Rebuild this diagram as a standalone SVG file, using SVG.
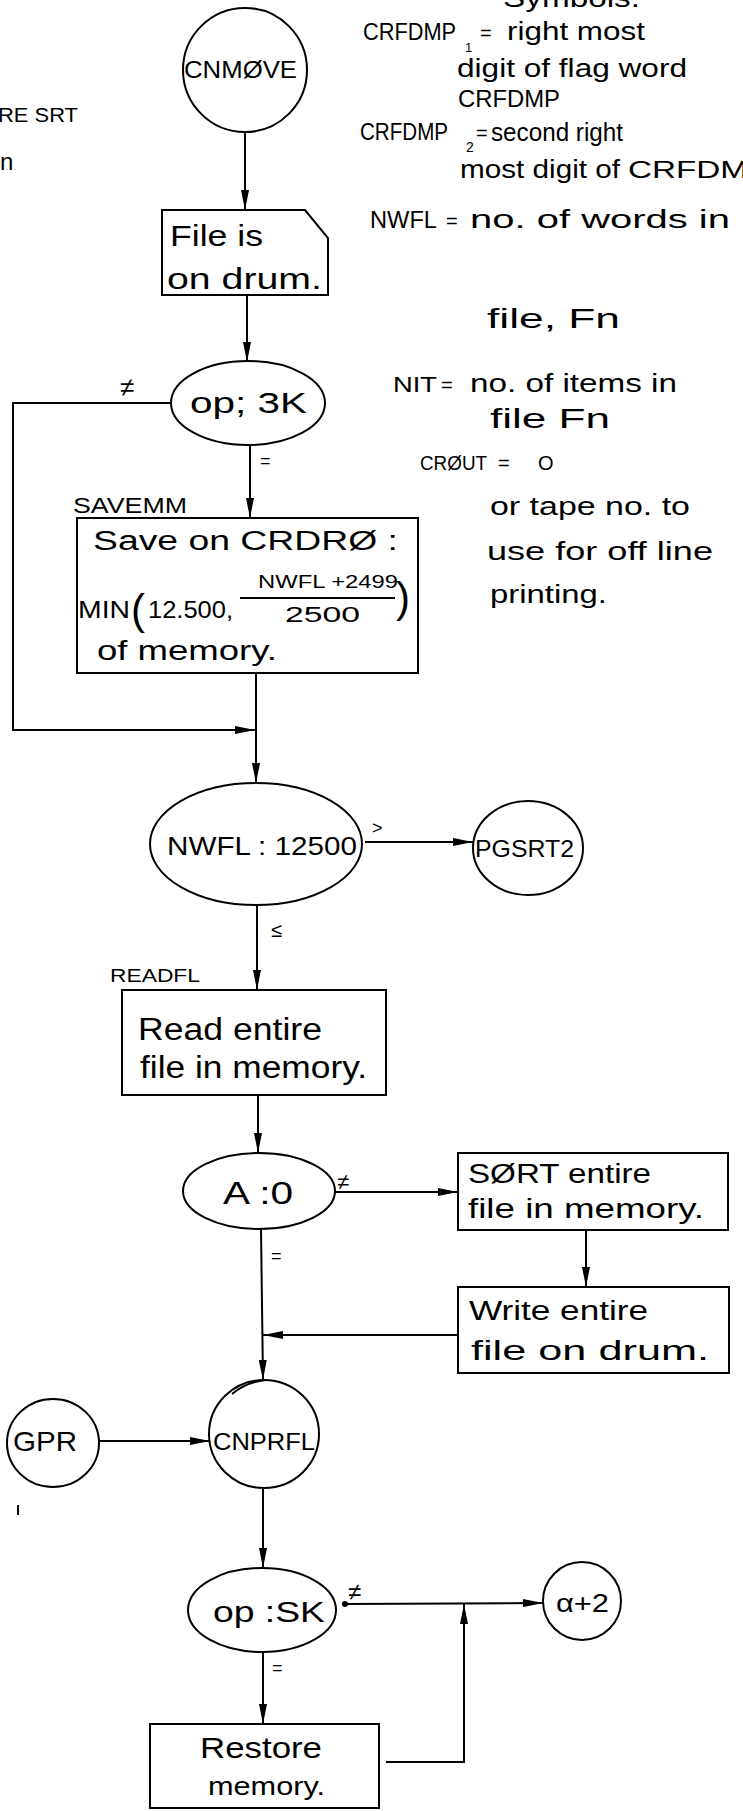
<svg xmlns="http://www.w3.org/2000/svg" width="743" height="1811" viewBox="0 0 743 1811">
<style>
.s{fill:none;stroke:#000;stroke-width:2}
.c{fill:none;stroke:#000;stroke-width:2}
text{font-family:"Liberation Sans",Arial,sans-serif;fill:#000}
</style>
<defs>
<marker id="ah" markerWidth="20" markerHeight="8" refX="20" refY="4" orient="auto" markerUnits="userSpaceOnUse"><path d="M0,0 L20,4 L0,8 z" fill="#000"/></marker>
</defs>
<rect width="743" height="1811" fill="#fff"/>

<g id="margin-notes">
<text x="-2" y="122" font-size="20" textLength="80" lengthAdjust="spacingAndGlyphs">RE SRT</text>
<text x="0" y="170" font-size="24">n</text>
<line x1="18" y1="1505" x2="18" y2="1515" class="s"/>
</g>

<g id="symbols">
<text x="503" y="7" font-size="26" textLength="137" lengthAdjust="spacingAndGlyphs">Symbols.</text>
<text x="363" y="40" font-size="24" textLength="93" lengthAdjust="spacingAndGlyphs">CRFDMP</text>
<text x="465" y="52" font-size="13">1</text>
<text x="480" y="40" font-size="20">=</text>
<text x="507" y="40" font-size="25" textLength="138" lengthAdjust="spacingAndGlyphs">right most</text>
<text x="457" y="77" font-size="25" textLength="230" lengthAdjust="spacingAndGlyphs">digit of flag word</text>
<text x="458" y="107" font-size="24" textLength="102" lengthAdjust="spacingAndGlyphs">CRFDMP</text>
<text x="360" y="140" font-size="24" textLength="88" lengthAdjust="spacingAndGlyphs">CRFDMP</text>
<text x="466" y="152" font-size="14">2</text>
<text x="476" y="140" font-size="20">=</text>
<text x="491" y="141" font-size="25" textLength="132" lengthAdjust="spacingAndGlyphs">second right</text>
<text x="460" y="178" font-size="25" textLength="160" lengthAdjust="spacingAndGlyphs">most digit of</text>
<text x="628" y="178" font-size="24" textLength="120" lengthAdjust="spacingAndGlyphs">CRFDM</text>
<text x="370" y="228" font-size="24" textLength="67" lengthAdjust="spacingAndGlyphs">NWFL</text>
<text x="446" y="228" font-size="20">=</text>
<text x="470" y="228" font-size="25" textLength="260" lengthAdjust="spacingAndGlyphs">no. of words in</text>
<text x="487" y="328" font-size="28" textLength="133" lengthAdjust="spacingAndGlyphs">file, Fn</text>
<text x="393" y="392" font-size="22" textLength="44" lengthAdjust="spacingAndGlyphs">NIT</text>
<text x="441" y="392" font-size="20">=</text>
<text x="470" y="392" font-size="25" textLength="207" lengthAdjust="spacingAndGlyphs">no. of items in</text>
<text x="490" y="428" font-size="28" textLength="120" lengthAdjust="spacingAndGlyphs">file Fn</text>
<text x="420" y="470" font-size="20" textLength="67" lengthAdjust="spacingAndGlyphs">CRØUT</text>
<text x="498" y="470" font-size="20">=</text>
<text x="538" y="470" font-size="20">O</text>
<text x="490" y="515" font-size="25" textLength="200" lengthAdjust="spacingAndGlyphs">or tape no. to</text>
<text x="487" y="560" font-size="25" textLength="226" lengthAdjust="spacingAndGlyphs">use for off line</text>
<text x="490" y="603" font-size="25" textLength="117" lengthAdjust="spacingAndGlyphs">printing.</text>
</g>

<g id="connectors">
<line x1="245" y1="132" x2="245" y2="210" class="c" marker-end="url(#ah)"/>
<line x1="247" y1="295" x2="247" y2="362" class="c" marker-end="url(#ah)"/>
<polyline points="172,403 13,403 13,730 255,730" class="c" marker-end="url(#ah)"/>
<line x1="250" y1="445" x2="250" y2="518" class="c" marker-end="url(#ah)"/>
<line x1="256" y1="673" x2="256" y2="783" class="c" marker-end="url(#ah)"/>
<line x1="365" y1="842" x2="473" y2="842" class="c" marker-end="url(#ah)"/>
<line x1="257" y1="905" x2="257" y2="990" class="c" marker-end="url(#ah)"/>
<line x1="258" y1="1095" x2="258" y2="1153" class="c" marker-end="url(#ah)"/>
<line x1="335" y1="1192" x2="458" y2="1192" class="c" marker-end="url(#ah)"/>
<line x1="586" y1="1230" x2="586" y2="1287" class="c" marker-end="url(#ah)"/>
<line x1="458" y1="1335" x2="263" y2="1335" class="c" marker-end="url(#ah)"/>
<line x1="261" y1="1229" x2="263" y2="1380" class="c" marker-end="url(#ah)"/>
<line x1="99" y1="1441" x2="210" y2="1441" class="c" marker-end="url(#ah)"/>
<line x1="263" y1="1488" x2="263" y2="1568" class="c" marker-end="url(#ah)"/>
<circle cx="345" cy="1604" r="3" fill="#000"/>
<line x1="345" y1="1604" x2="543" y2="1603" class="c" marker-end="url(#ah)"/>
<line x1="263" y1="1652" x2="263" y2="1724" class="c" marker-end="url(#ah)"/>
<polyline points="386,1762 464,1762 464,1604" class="c" marker-end="url(#ah)"/>
<text x="120" y="396" font-size="26">≠</text>
<text x="260" y="467" font-size="18">=</text>
<text x="372" y="834" font-size="18">&gt;</text>
<text x="271" y="937" font-size="20">≤</text>
<text x="337" y="1189" font-size="22">≠</text>
<text x="271" y="1262" font-size="18">=</text>
<text x="348" y="1600" font-size="24">≠</text>
<text x="272" y="1674" font-size="18">=</text>
</g>

<g id="cnmove">
<circle cx="245" cy="70" r="62" class="s"/>
<text x="184" y="78" font-size="23" textLength="113" lengthAdjust="spacingAndGlyphs">CNMØVE</text>
</g>

<g id="file-on-drum">
<polygon points="162,210 305,210 328,238 328,295 162,295" class="s"/>
<text x="170" y="246" font-size="30" textLength="93" lengthAdjust="spacingAndGlyphs">File is</text>
<text x="167" y="289" font-size="30" textLength="155" lengthAdjust="spacingAndGlyphs">on drum.</text>
</g>

<g id="op-3k">
<ellipse cx="248" cy="403" rx="77" ry="42" class="s"/>
<text x="190" y="413" font-size="30" textLength="117" lengthAdjust="spacingAndGlyphs">op; 3K</text>
</g>

<g id="savemm">
<text x="73" y="513" font-size="22" textLength="114" lengthAdjust="spacingAndGlyphs">SAVEMM</text>
<rect x="77" y="518" width="341" height="155" class="s"/>
<text x="93" y="550" font-size="27" textLength="305" lengthAdjust="spacingAndGlyphs">Save on CRDRØ :</text>
<text x="78" y="618" font-size="24" textLength="52" lengthAdjust="spacingAndGlyphs">MIN</text>
<text x="131" y="624" font-size="42">(</text>
<text x="148" y="618" font-size="24" textLength="85" lengthAdjust="spacingAndGlyphs">12.500,</text>
<text x="258" y="588" font-size="18" textLength="140" lengthAdjust="spacingAndGlyphs">NWFL +2499</text>
<line x1="240" y1="598" x2="395" y2="598" class="s"/>
<text x="285" y="622" font-size="22" textLength="75" lengthAdjust="spacingAndGlyphs">2500</text>
<text x="396" y="612" font-size="42">)</text>
<text x="97" y="660" font-size="28" textLength="180" lengthAdjust="spacingAndGlyphs">of memory.</text>
</g>

<g id="nwfl-test">
<ellipse cx="256" cy="844" rx="106" ry="61" class="s"/>
<text x="167" y="855" font-size="26" textLength="190" lengthAdjust="spacingAndGlyphs">NWFL : 12500</text>
</g>

<g id="pgsrt2">
<ellipse cx="528" cy="848" rx="55" ry="47" class="s"/>
<text x="475" y="857" font-size="24" textLength="99" lengthAdjust="spacingAndGlyphs">PGSRT2</text>
</g>

<g id="readfl">
<text x="110" y="982" font-size="19" textLength="90" lengthAdjust="spacingAndGlyphs">READFL</text>
<rect x="122" y="990" width="264" height="105" class="s"/>
<text x="138" y="1040" font-size="31" textLength="184" lengthAdjust="spacingAndGlyphs">Read entire</text>
<text x="140" y="1078" font-size="31" textLength="227" lengthAdjust="spacingAndGlyphs">file in memory.</text>
</g>

<g id="a-test">
<ellipse cx="259" cy="1191" rx="76" ry="38" class="s"/>
<text x="223" y="1204" font-size="32" textLength="70" lengthAdjust="spacingAndGlyphs">A :0</text>
</g>

<g id="sort">
<rect x="458" y="1153" width="270" height="77" class="s"/>
<text x="468" y="1183" font-size="27" textLength="183" lengthAdjust="spacingAndGlyphs">SØRT entire</text>
<text x="468" y="1218" font-size="27" textLength="236" lengthAdjust="spacingAndGlyphs">file in memory.</text>
</g>

<g id="write">
<rect x="458" y="1287" width="271" height="86" class="s"/>
<text x="469" y="1320" font-size="27" textLength="179" lengthAdjust="spacingAndGlyphs">Write entire</text>
<text x="471" y="1360" font-size="27" textLength="238" lengthAdjust="spacingAndGlyphs">file on drum.</text>
</g>

<g id="gpr">
<ellipse cx="53" cy="1443" rx="46" ry="44" class="s"/>
<text x="13" y="1451" font-size="28" textLength="64" lengthAdjust="spacingAndGlyphs">GPR</text>
</g>

<g id="cnprfl">
<ellipse cx="264" cy="1434" rx="55" ry="54" class="s"/>
<path d="M232,1394 Q246,1382 266,1380" class="s" stroke-width="1.5"/>
<text x="213" y="1450" font-size="24" textLength="102" lengthAdjust="spacingAndGlyphs">CNPRFL</text>
</g>

<g id="op-sk">
<ellipse cx="262" cy="1610" rx="74" ry="42" class="s"/>
<text x="213" y="1622" font-size="29" textLength="112" lengthAdjust="spacingAndGlyphs">op :SK</text>
</g>

<g id="alpha2">
<circle cx="582" cy="1601" r="39" class="s"/>
<text x="556" y="1612" font-size="26" textLength="53" lengthAdjust="spacingAndGlyphs">α+2</text>
</g>

<g id="restore">
<rect x="150" y="1724" width="229" height="84" class="s"/>
<text x="200" y="1758" font-size="30" textLength="122" lengthAdjust="spacingAndGlyphs">Restore</text>
<text x="208" y="1795" font-size="26" textLength="117" lengthAdjust="spacingAndGlyphs">memory.</text>
</g>
</svg>
